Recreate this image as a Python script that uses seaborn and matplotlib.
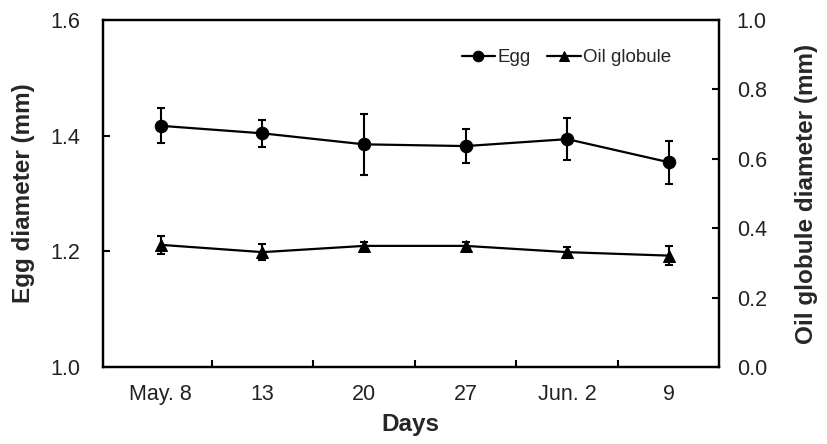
import matplotlib
matplotlib.use("Agg")
import matplotlib.pyplot as plt
import seaborn as sns
import numpy as np
import pandas as pd

days = ["May. 8", "13", "20", "27", "Jun. 2", "9"]
egg_mean = [1.417, 1.404, 1.385, 1.382, 1.394, 1.354]
egg_err = [0.030, 0.023, 0.053, 0.030, 0.036, 0.037]
oil_mean = [0.352, 0.331, 0.349, 0.349, 0.331, 0.321]
oil_err = [0.025, 0.024, 0.012, 0.012, 0.016, 0.028]

sns.set_theme(style="white")
plt.rcParams['font.family'] = ['Liberation Sans', 'DejaVu Sans']

fig = plt.figure(figsize=(8.27, 4.44), dpi=100)
ax = fig.add_axes([0.1245, 0.1734, 0.7445, 0.7816])
ax2 = ax.twinx()

x = np.arange(len(days))
df_egg = pd.DataFrame({"x": x, "y": egg_mean})
df_oil = pd.DataFrame({"x": x, "y": oil_mean})

sns.lineplot(data=df_egg, x="x", y="y", ax=ax, color="black", marker="o",
             markersize=9, linewidth=1.6, markeredgecolor="black", label="Egg", legend=False)
ax.errorbar(x, egg_mean, yerr=egg_err, fmt="none", ecolor="black", elinewidth=1.5,
            capsize=2.6, capthick=1.5)
sns.lineplot(data=df_oil, x="x", y="y", ax=ax2, color="black", marker="^",
             markersize=9, linewidth=1.6, markeredgecolor="black", label="Oil globule", legend=False)
ax2.errorbar(x, oil_mean, yerr=oil_err, fmt="none", ecolor="black", elinewidth=1.5,
             capsize=2.6, capthick=1.5)

ax.set_xlim(-0.57, 5.49)
ax.set_ylim(1.0, 1.6)
ax2.set_ylim(0.0, 1.0)
ax.set_xticks(x)
ax.set_xticklabels(days)
ax.set_xticks(x[:-1] + 0.5, minor=True)
ax.set_yticks([1.0, 1.2, 1.4, 1.6])
ax.set_yticklabels(["1.0", "1.2", "1.4", "1.6"])
ax2.set_yticks([0.0, 0.2, 0.4, 0.6, 0.8, 1.0])
ax2.set_yticklabels(["0.0", "0.2", "0.4", "0.6", "0.8", "1.0"])

for a in (ax, ax2):
    for s in a.spines.values():
        s.set_color("black")
        s.set_linewidth(1.6)
ax.tick_params(axis="y", direction="in", length=5, width=1.5, labelsize=15.5,
               colors="black", labelcolor="#222222", pad=16, left=True, right=False)
ax2.tick_params(axis="y", direction="in", length=5, width=1.5, labelsize=15.5,
                colors="black", labelcolor="#222222", pad=13, right=True, left=False)
ax.tick_params(axis="x", which="major", length=0, labelsize=15.5, labelcolor="#222222", pad=12)
ax.tick_params(axis="x", which="minor", direction="in", length=5, width=1.5,
               colors="black", bottom=True)

ax.set_xlabel("Days", fontsize=17.5, fontweight="bold", labelpad=6)
ax.set_ylabel("Egg diameter (mm)", fontsize=17.5, fontweight="bold", labelpad=11)
ax2.set_ylabel("Oil globule diameter (mm)", fontsize=17.5, fontweight="bold", labelpad=20)
ax.grid(False)
ax2.grid(False)

h1, l1 = ax.get_legend_handles_labels()
h2, l2 = ax2.get_legend_handles_labels()
leg = ax.legend(h1 + h2, l1 + l2, loc="upper right", bbox_to_anchor=(0.95, 0.965), ncol=2,
                frameon=False, fontsize=13.5, handlelength=1.8, handletextpad=0.1,
                columnspacing=0.9, markerscale=0.85)

fig.savefig("out.png", dpi=100)
